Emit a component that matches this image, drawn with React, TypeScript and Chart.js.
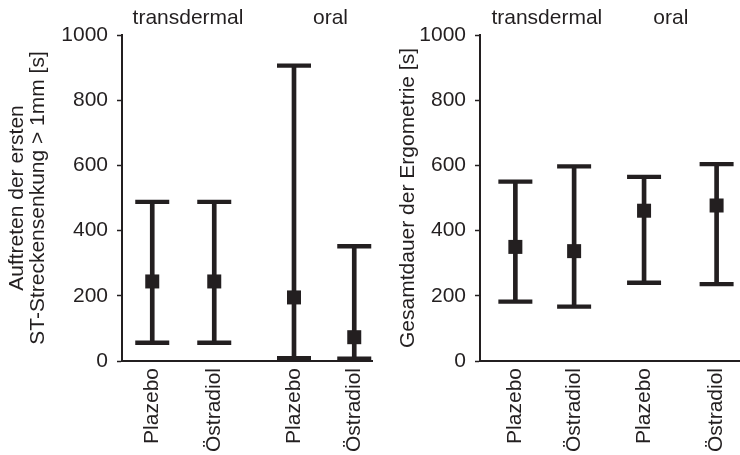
import React, { useEffect, useRef } from 'react';
import { Chart, registerables } from 'chart.js';

Chart.register(...registerables);

// ---- data ----
const categoryLabels = ['Plazebo', 'Östradiol', 'Plazebo', 'Östradiol'];
const groupLabels = ['transdermal', 'oral'];
const yTickValues = [0, 200, 400, 600, 800, 1000];

// Left: Auftreten der ersten ST-Streckensenkung > 1mm [s]
const stMean = [244, 244, 195, 73];
const stLow = [56, 56, 9, 7];
const stHigh = [488, 488, 906, 352];

// Right: Gesamtdauer der Ergometrie [s]
const ergoMean = [350, 337, 461, 477];
const ergoLow = [182, 167, 240, 236];
const ergoHigh = [550, 597, 565, 604];

// ---- layout ----
const DARK = '#231f20';
const FONT = "'Liberation Sans', Arial, Helvetica, sans-serif";
const leftSlots = [1.21, 3.69, 6.88, 9.29];
const leftGroupSlots = [2.64, 8.34];
const rightSlots = [1.36, 3.62, 6.31, 9.1];
const rightGroupSlots = [2.57, 7.34];

type PanelProps = {
  width: number;
  mean: number[];
  low: number[];
  high: number[];
  slots: number[];
  groupSlots: number[];
  title: string | string[];
  yWidth: number;
  titlePad: number;
  padRight: number;
};

function Panel(p: PanelProps) {
  const ref = useRef<HTMLCanvasElement | null>(null);
  useEffect(() => {
    if (!ref.current) return;
    const pts = (vals: number[]) => vals.map((v, i) => ({ x: p.slots[i], y: v }));
    const groupPlugin = {
      id: 'groupLabels',
      afterDraw(chart: any) {
        const ctx = chart.ctx;
        const xs = chart.scales.x;
        ctx.save();
        ctx.font = `21px ${FONT}`;
        ctx.fillStyle = DARK;
        ctx.textAlign = 'center';
        ctx.textBaseline = 'alphabetic';
        groupLabels.forEach((g, i) => {
          ctx.fillText(g, xs.getPixelForValue(p.groupSlots[i]), 24);
        });
        ctx.restore();
      },
    };
    const chart = new Chart(ref.current, {
      type: 'scatter',
      data: {
        datasets: [
          {
            type: 'scatter',
            data: pts(p.mean),
            pointStyle: 'rect',
            pointRadius: 9.9,
            pointHoverRadius: 9.9,
            pointBorderWidth: 0,
            backgroundColor: DARK,
            borderColor: DARK,
            order: 0,
            clip: false,
          } as any,
          {
            type: 'scatter',
            data: [...pts(p.high), ...pts(p.low)],
            pointStyle: 'line',
            pointRadius: 17,
            pointHoverRadius: 17,
            pointBorderWidth: 4.3,
            borderColor: DARK,
            backgroundColor: DARK,
            order: 1,
            clip: false,
          } as any,
          {
            type: 'bar',
            data: p.slots.map((x, i) => ({ x, y: [p.low[i], p.high[i]] })),
            barThickness: 4,
            grouped: false,
            backgroundColor: DARK,
            borderWidth: 0,
            order: 2,
            clip: false,
          } as any,
        ],
      },
      options: {
        animation: false,
        responsive: false,
        maintainAspectRatio: false,
        layout: { autoPadding: false, padding: { top: 35, right: p.padRight, bottom: 0, left: 0 } },
        plugins: { legend: { display: false }, tooltip: { enabled: false } },
        scales: {
          x: {
            type: 'linear',
            min: 0,
            max: 10,
            offset: false,
            grid: { display: false, drawTicks: false, offset: false },
            border: { display: true, color: DARK, width: 2 },
            afterBuildTicks: (scale: any) => {
              scale.ticks = p.slots.map((v) => ({ value: v }));
            },
            afterFit: (scale: any) => {
              scale.height = 94;
              scale.paddingLeft = 0;
              scale.paddingRight = 0;
            },
            ticks: {
              autoSkip: false,
              minRotation: 90,
              maxRotation: 90,
              padding: 7,
              color: DARK,
              font: { family: FONT, size: 21 },
              callback: (_v: any, i: number) => categoryLabels[i],
            },
          },
          y: {
            type: 'linear',
            min: 0,
            max: 1000,
            afterBuildTicks: (scale: any) => {
              scale.ticks = yTickValues.map((v) => ({ value: v }));
            },
            afterFit: (scale: any) => {
              scale.width = p.yWidth;
            },
            grid: {
              display: true,
              drawOnChartArea: false,
              drawTicks: true,
              tickLength: 5,
              tickWidth: 1.5,
              color: DARK,
            },
            border: { display: true, color: DARK, width: 2 },
            ticks: {
              padding: 9,
              color: DARK,
              font: { family: FONT, size: 21 },
              callback: (v: any) => String(v),
            },
            title: {
              display: true,
              text: p.title,
              color: DARK,
              font: { family: FONT, size: 21, lineHeight: 1 },
              padding: { top: p.titlePad, bottom: 0 },
            },
          },
        },
      } as any,
      plugins: [groupPlugin],
    });
    return () => chart.destroy();
  }, []);
  return <canvas ref={ref} width={p.width} height={455} style={{ width: p.width, height: 455, display: 'block' }} />;
}

export default function App() {
  return (
    <div style={{ position: 'absolute', left: 0, top: 0, width: 740, height: 455, background: '#fff', display: 'flex' }}>
      <Panel
        width={380}
        mean={stMean}
        low={stLow}
        high={stHigh}
        slots={leftSlots}
        groupSlots={leftGroupSlots}
        title={['Auftreten der ersten', 'ST-Streckensenkung > 1mm [s]']}
        yWidth={122}
        titlePad={6.5}
        padRight={8}
      />
      <Panel
        width={360}
        mean={ergoMean}
        low={ergoLow}
        high={ergoHigh}
        slots={rightSlots}
        groupSlots={rightGroupSlots}
        title={'Gesamtdauer der Ergometrie [s]'}
        yWidth={100}
        titlePad={17.8}
        padRight={0}
      />
    </div>
  );
}
